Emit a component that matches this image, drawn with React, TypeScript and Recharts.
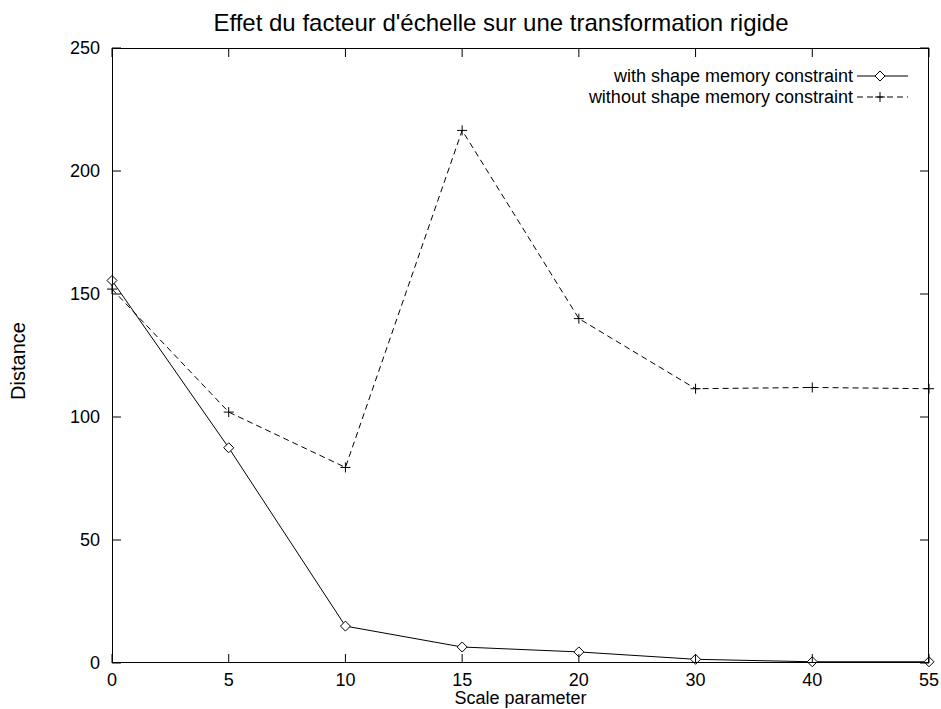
import React from "react"
import { LineChart, Line, XAxis, YAxis } from "recharts"

// Scale parameter values (categorical, equally spaced as in the source plot)
const scales = ["0", "5", "10", "15", "20", "30", "40", "55"]
const withConstraint = [155.5, 87.5, 15, 6.5, 4.5, 1.5, 0.5, 0.5]
const withoutConstraint = [152, 102, 79.5, 216.5, 140, 111.5, 112, 111.5]
const yTicks = [0, 50, 100, 150, 200, 250]

const data = scales.map((s, i) => ({
  scale: s,
  with: withConstraint[i],
  without: withoutConstraint[i],
}))

const FONT = "'Liberation Sans', Arial, Helvetica, sans-serif"
const PLOT_W = 817
const PLOT_H = 615
const TICK = 9
const Y_MARGIN = 12

const YTick = ({ x, y, payload }: any) => {
  const left = x + Y_MARGIN
  return (
    <g>
      <text x={x} y={y} dy="0.355em" textAnchor="end" fontSize={18} fontFamily={FONT} fill="#000">
        {payload.value}
      </text>
      <line x1={left} x2={left + TICK} y1={y} y2={y} stroke="#000" />
      <line x1={left + PLOT_W} x2={left + PLOT_W - TICK} y1={y} y2={y} stroke="#000" />
    </g>
  )
}

const XTick = ({ x, y, payload }: any) => {
  const bottom = y - 10
  return (
    <g>
      <text x={x} y={y} dy="0.71em" textAnchor="middle" fontSize={18} fontFamily={FONT} fill="#000">
        {payload.value}
      </text>
      <line x1={x} x2={x} y1={bottom} y2={bottom - TICK} stroke="#000" />
      <line x1={x} x2={x} y1={bottom - PLOT_H} y2={bottom - PLOT_H + TICK} stroke="#000" />
    </g>
  )
}

const Diamond = ({ cx, cy }: any) => {
  if (cx == null || cy == null) return null
  const r = 5
  return (
    <path
      d={`M${cx},${cy - r}L${cx + r},${cy}L${cx},${cy + r}L${cx - r},${cy}Z`}
      fill="#fff"
      stroke="#000"
      strokeWidth={1}
    />
  )
}

const Plus = ({ cx, cy }: any) => {
  if (cx == null || cy == null) return null
  const r = 5
  return (
    <path d={`M${cx - r},${cy}H${cx + r}M${cx},${cy - r}V${cy + r}`} stroke="#000" strokeWidth={1} fill="none" />
  )
}

export default function App() {
  return (
    <div style={{ position: "absolute", left: 0, top: 0, width: 941, height: 709, background: "#fff", fontFamily: FONT }}>
      <div style={{ position: "absolute", top: 9, left: 0, width: 1002, textAlign: "center", fontSize: 24, lineHeight: "28px" }}>
        Effet du facteur d'échelle sur une transformation rigide
      </div>
      <div
        style={{
          position: "absolute",
          left: 18,
          top: 361,
          transform: "translate(-50%, -50%) rotate(-90deg)",
          fontSize: 20,
          whiteSpace: "nowrap",
        }}
      >
        Distance
      </div>
      <div style={{ position: "absolute", top: 688, left: 112, width: 817, textAlign: "center", fontSize: 18, lineHeight: "20px" }}>
        Scale parameter
      </div>

      <LineChart width={941} height={709} data={data} margin={{ top: 48, right: 12, left: 0, bottom: 0 }}>
        <XAxis
          dataKey="scale"
          type="category"
          height={46}
          padding={{ left: 0, right: 0 }}
          tickSize={0}
          tickMargin={10}
          tick={<XTick />}
          axisLine={false}
          interval={0}
        />
        <YAxis
          type="number"
          domain={[0, 250]}
          ticks={yTicks}
          width={112}
          tickSize={0}
          tickMargin={Y_MARGIN}
          tick={<YTick />}
          axisLine={false}
        />
        <Line
          dataKey="with"
          stroke="#000"
          strokeWidth={1}
          dot={<Diamond />}
          isAnimationActive={false}
          type="linear"
        />
        <Line
          dataKey="without"
          stroke="#000"
          strokeWidth={1}
          strokeDasharray="6 4"
          dot={<Plus />}
          isAnimationActive={false}
          type="linear"
        />
      </LineChart>

      {/* plot frame */}
      <div style={{ position: "absolute", left: 112, top: 48, width: 817, height: 615, border: "1.5px solid #000", boxSizing: "border-box", pointerEvents: "none" }} />

      {/* legend */}
      <svg style={{ position: "absolute", left: 560, top: 62, overflow: "visible" }} width={360} height={50}>
        <text x={293} y={14} textAnchor="end" dy="0.355em" fontSize={18} fontFamily={FONT}>
          with shape memory constraint
        </text>
        <line x1={297} x2={348} y1={14} y2={14} stroke="#000" />
        <Diamond cx={320} cy={14} />
        <text x={293} y={35} textAnchor="end" dy="0.355em" fontSize={18} fontFamily={FONT}>
          without shape memory constraint
        </text>
        <line x1={297} x2={348} y1={35} y2={35} stroke="#000" strokeDasharray="6 4" />
        <Plus cx={320} cy={35} />
      </svg>
    </div>
  )
}
